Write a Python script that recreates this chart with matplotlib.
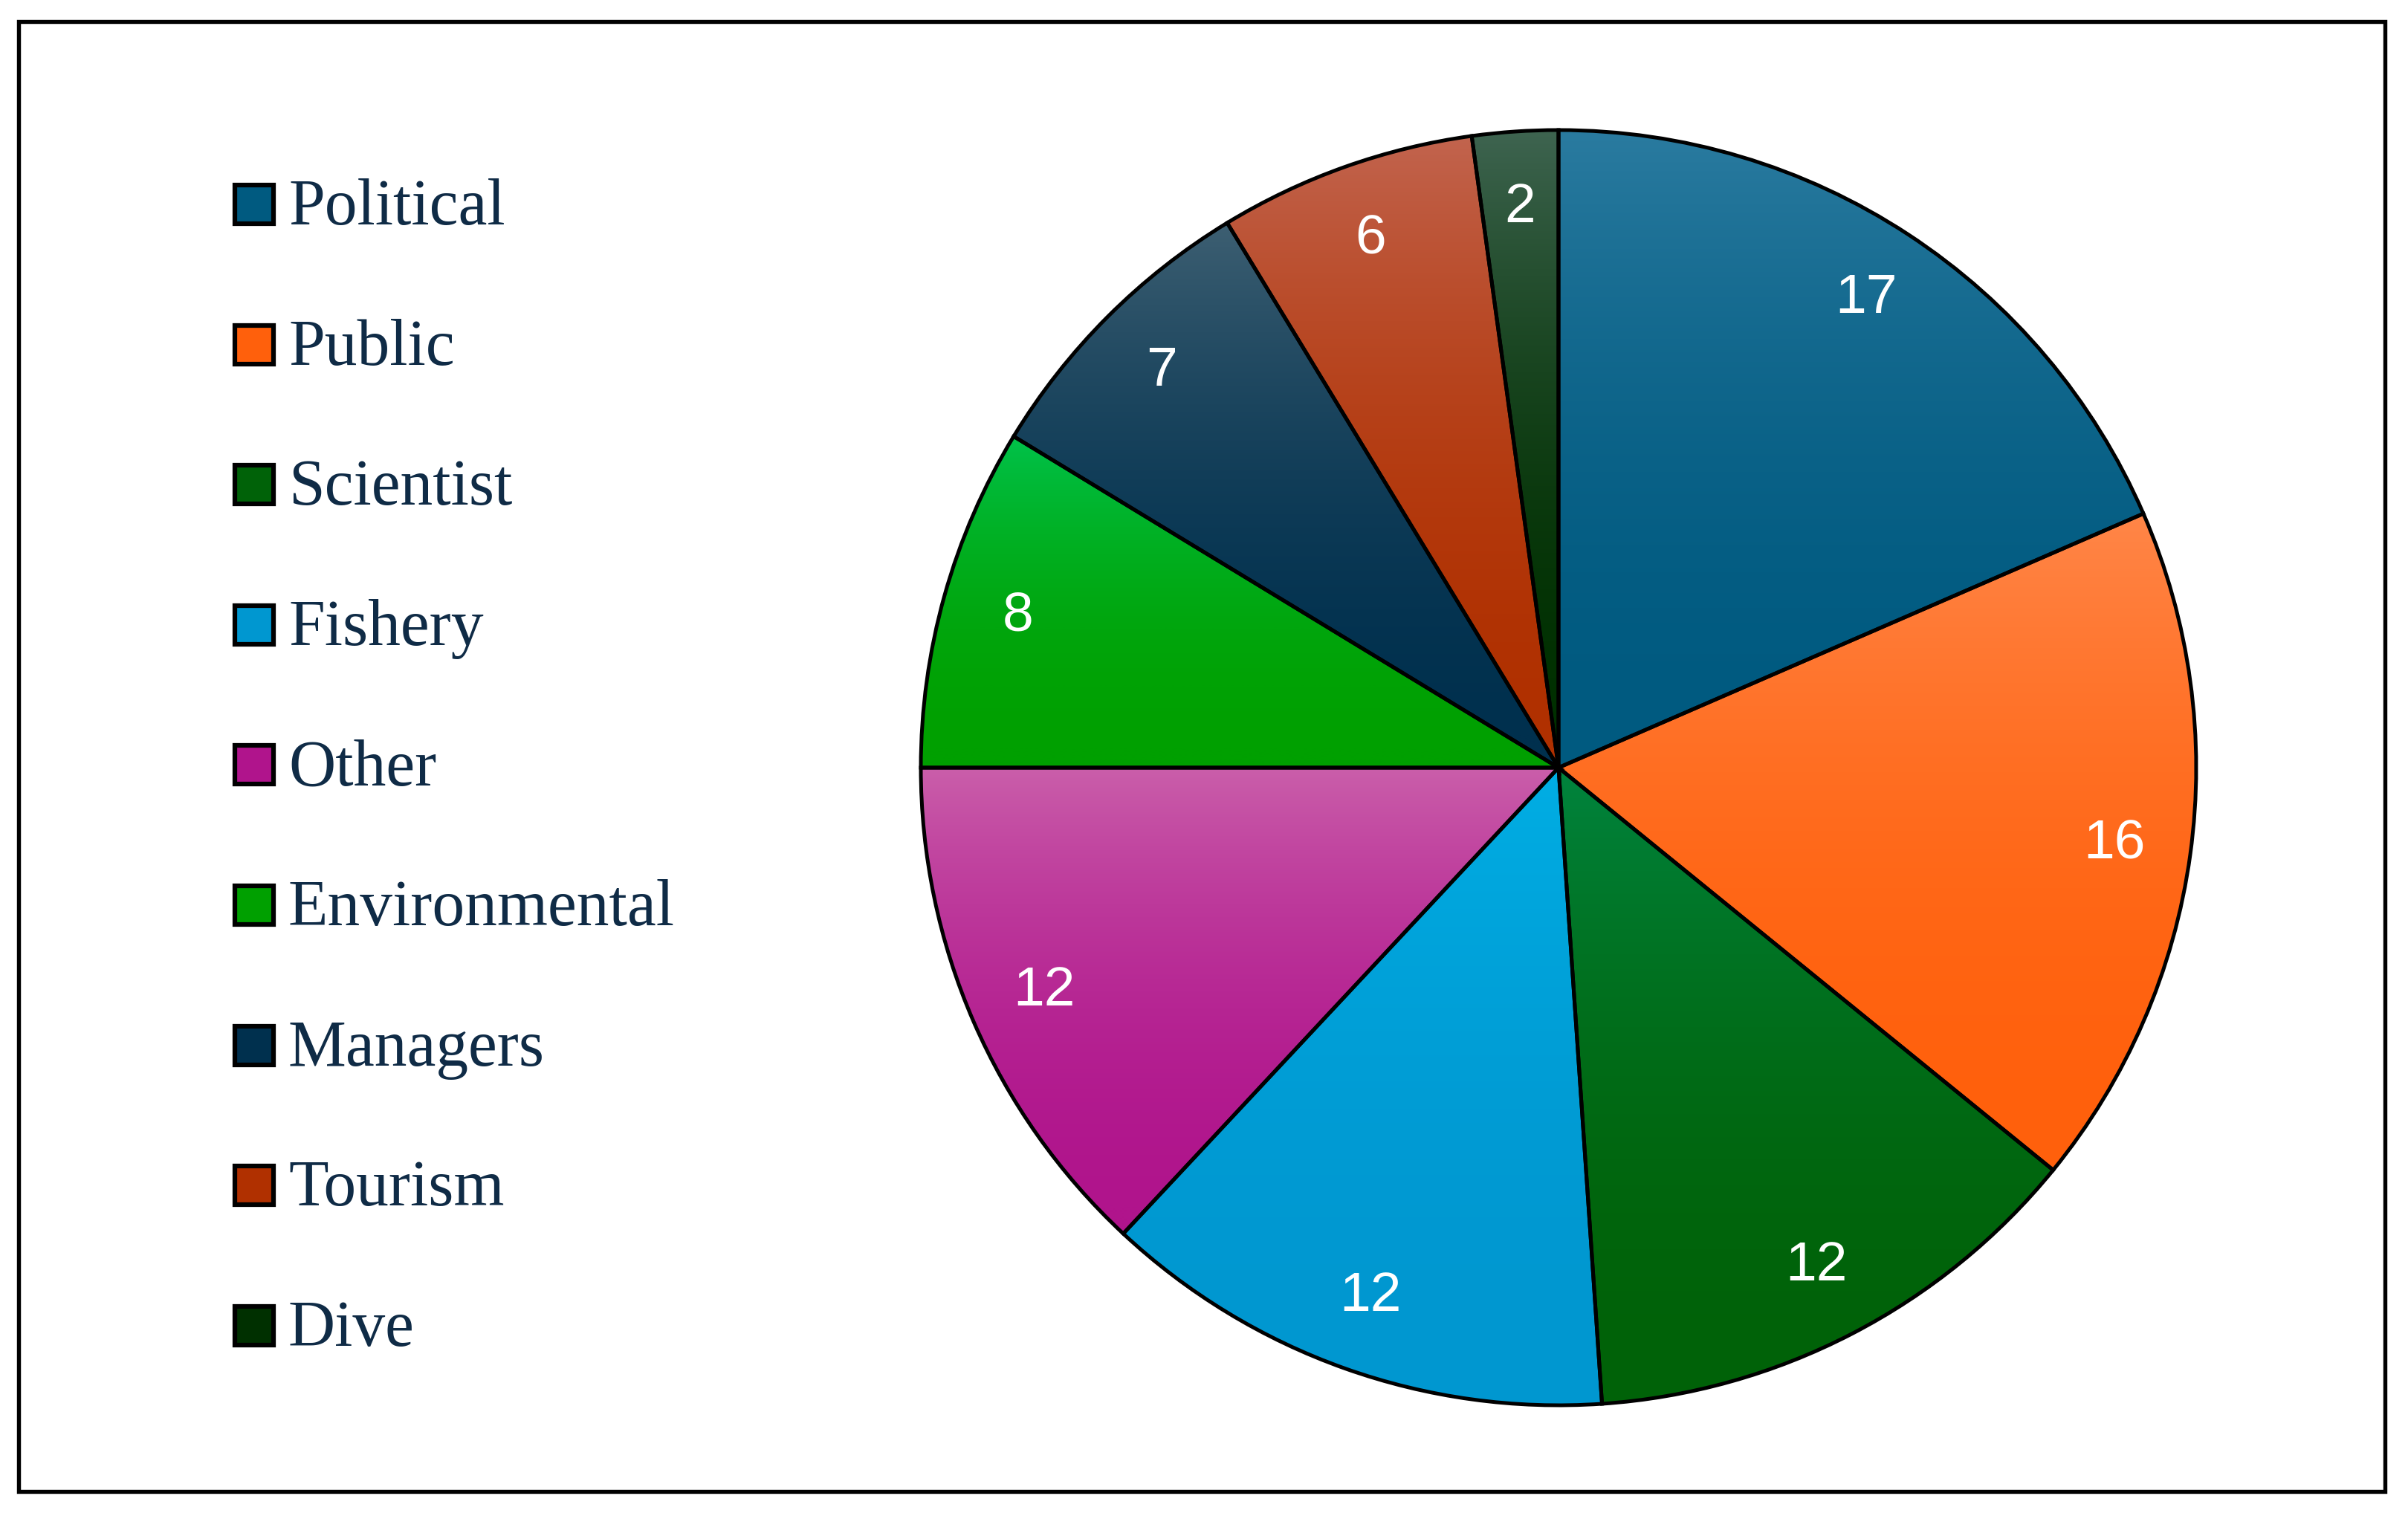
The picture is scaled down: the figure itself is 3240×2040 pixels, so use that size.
import numpy as np
import matplotlib
matplotlib.use("Agg")
import matplotlib.pyplot as plt
from matplotlib.patches import Rectangle
from matplotlib.colors import LinearSegmentedColormap

# data
categories = ['Political', 'Public', 'Scientist', 'Fishery', 'Other',
              'Environmental', 'Managers', 'Tourism', 'Dive']
counts = [17, 16, 12, 12, 12, 8, 7, 6, 2]

# gradient colours (top, bottom) per slice
top_colors = ['#2a7ba0', '#ff8648', '#00843e', '#00aee4', '#ca5eaa',
              '#00c24a', '#3d5f72', '#c2644e', '#3e6450']
bottom_colors = ['#005a80', '#ff600c', '#006208', '#0097d0', '#b0148c',
                 '#00a000', '#00304e', '#b03000', '#003000']

W, H = 3240, 2040
fig = plt.figure(figsize=(10.8, 6.8), dpi=300)
ax = fig.add_axes([0, 0, 1, 1])

total = sum(counts)
cx, cy, r = 2097, H - 1033, 858

wedges, texts, autotexts = ax.pie(
    counts, center=(cx, cy), radius=r, startangle=90, counterclock=False,
    colors=bottom_colors, autopct=lambda p: f'{p * total / 100:.0f}',
    pctdistance=0.88,
    wedgeprops=dict(edgecolor='black', linewidth=1.2),
    textprops=dict(color='white', fontsize=18, family='Liberation Sans'),
    frame=True)

# vertical gradient fill in each slice, lighter at the top
for i, w in enumerate(wedges):
    verts = w.get_path().vertices
    x0, x1 = verts[:, 0].min(), verts[:, 0].max()
    y0, y1 = verts[:, 1].min(), verts[:, 1].max()
    cmap = LinearSegmentedColormap.from_list('g', [bottom_colors[i], top_colors[i]])
    grad = (np.linspace(1, 0, 256) ** 2.0).reshape(-1, 1)
    im = ax.imshow(grad, cmap=cmap, vmin=0, vmax=1, extent=(x0, x1, y0, y1),
                   aspect='auto', zorder=1, interpolation='bilinear')
    im.set_clip_path(w)
    w.set_facecolor('none')
    w.set_zorder(2)
for t in autotexts:
    t.set_zorder(3)

ax.set_xlim(0, W)
ax.set_ylim(0, H)
ax.set_aspect('equal')
ax.axis('off')

# legend
row0, step = 275, 188.6
for i, name in enumerate(categories):
    yc = H - (row0 + i * step)
    ax.add_patch(Rectangle((316, yc - 26), 52, 52, facecolor=bottom_colors[i],
                           edgecolor='black', linewidth=1.5, zorder=3))
    ax.text(388, yc - 27, name, fontsize=21, family='Liberation Serif',
            color='#0f2b46', va='baseline', ha='left')

# outer frame
ax.add_patch(Rectangle((25, H - 2007), 3184, 1978, facecolor='none',
                       edgecolor='black', linewidth=1.3, zorder=5))

fig.savefig('out.png', dpi=300, facecolor='white')
